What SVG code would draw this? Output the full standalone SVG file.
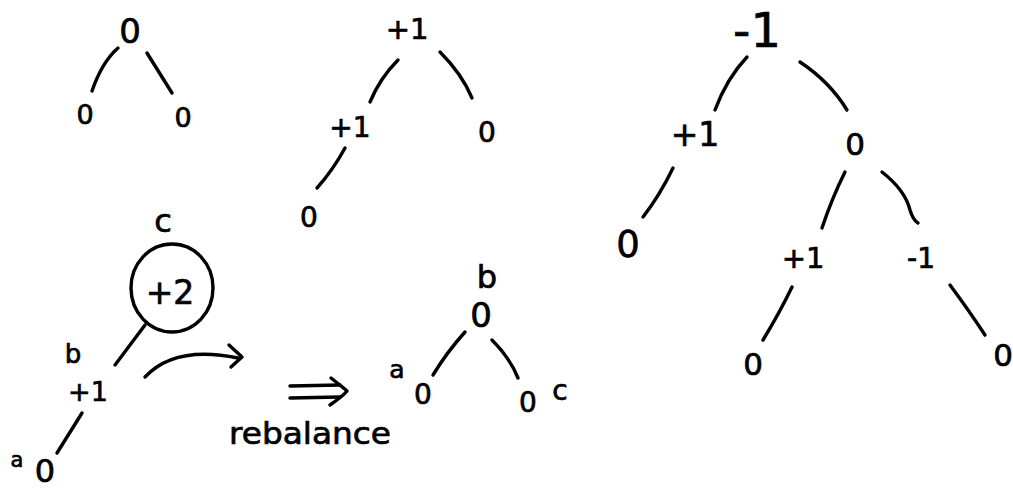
<svg xmlns="http://www.w3.org/2000/svg" width="1013" height="489" viewBox="0 0 1013 489">
<style>
.t{font-family:"DejaVu Sans","Liberation Sans",sans-serif;fill:#000;stroke:#000;stroke-width:0.7;text-anchor:middle;dominant-baseline:central}
.e{fill:none;stroke:#000;stroke-width:3.4;stroke-linecap:round;stroke-linejoin:round}
</style>
<rect width="1013" height="489" fill="#fff"/>
<g id="connectors" class="e">
<path d="M118,48 Q102,62 92,91"/>
<path d="M147,53 L172,93"/>
<path d="M398,60 Q380,78 370,102"/>
<path d="M440,52 Q462,74 472,98"/>
<path d="M345,148 Q333,170 317,188"/>
<path d="M747,57 Q727,78 715,110"/>
<path d="M800,62 Q830,82 847,110"/>
<path d="M673,168 Q660,195 643,217"/>
<path d="M845,172 Q832,198 822,228"/>
<path d="M882,172 Q905,190 910,210 Q913,220 918,223"/>
<path d="M792,287 Q780,312 763,340"/>
<path d="M950,285 Q970,312 985,335"/>
<path d="M145,325 L115,365"/>
<path d="M82,413 L57,453"/>
<path d="M465,332 Q447,352 433,375"/>
<path d="M492,340 Q510,358 518,378"/>
<path d="M145,377 Q175,345 238,358"/>
<path d="M229,345 L242,357 L231,367"/>
<path d="M290,386 L340,385"/>
<path d="M290,398 L340,397"/>
<path d="M331,378 Q345,389 347,391 Q343,396 330,405"/>
</g>
<g id="t1-root"><text class="t" x="130" y="31" font-size="34">0</text></g>
<g id="t1-left"><text class="t" x="85" y="114" font-size="27">0</text></g>
<g id="t1-right"><text class="t" x="183" y="117" font-size="27">0</text></g>
<g id="t2-root"><text class="t" x="407" y="29" font-size="29">+1</text></g>
<g id="t2-left"><text class="t" x="350" y="127" font-size="28">+1</text></g>
<g id="t2-right"><text class="t" x="487" y="132" font-size="28">0</text></g>
<g id="t2-leaf"><text class="t" x="309" y="217" font-size="28">0</text></g>
<g id="t3-root"><text class="t" x="757" y="30" font-size="48">-1</text></g>
<g id="t3-left"><text class="t" x="695" y="134" font-size="33">+1</text></g>
<g id="t3-right"><text class="t" x="855" y="144" font-size="31">0</text></g>
<g id="t3-leftleaf"><text class="t" x="628" y="244" font-size="37">0</text></g>
<g id="t3-rl"><text class="t" x="803" y="258" font-size="29">+1</text></g>
<g id="t3-rr"><text class="t" x="921" y="258" font-size="28">-1</text></g>
<g id="t3-rlleaf"><text class="t" x="753" y="364" font-size="31">0</text></g>
<g id="t3-rrleaf"><text class="t" x="1003" y="355" font-size="31">0</text></g>
<g id="u-c">
<text class="t" x="163" y="221" font-size="32">c</text>
<ellipse cx="172" cy="288" rx="41" ry="44" fill="none" stroke="#000" stroke-width="3.4"/>
<text class="t" x="170" y="292" font-size="33">+2</text>
</g>
<g id="u-b">
<text class="t" x="73" y="354" font-size="26">b</text>
<text class="t" x="88" y="391" font-size="27">+1</text>
</g>
<g id="u-a">
<text class="t" x="17" y="460" font-size="21">a</text>
<text class="t" x="45" y="471" font-size="32">0</text>
</g>
<g id="rebalance"><text class="t" x="310" y="433" font-size="31" textLength="162" lengthAdjust="spacingAndGlyphs">rebalance</text></g>
<g id="r-b">
<text class="t" x="487" y="277" font-size="32">b</text>
<text class="t" x="481" y="315" font-size="34">0</text>
</g>
<g id="r-a">
<text class="t" x="397" y="369" font-size="25">a</text>
<text class="t" x="423" y="394" font-size="28">0</text>
</g>
<g id="r-c">
<text class="t" x="528" y="402" font-size="28">0</text>
<text class="t" x="560" y="390" font-size="28">c</text>
</g>
</svg>
